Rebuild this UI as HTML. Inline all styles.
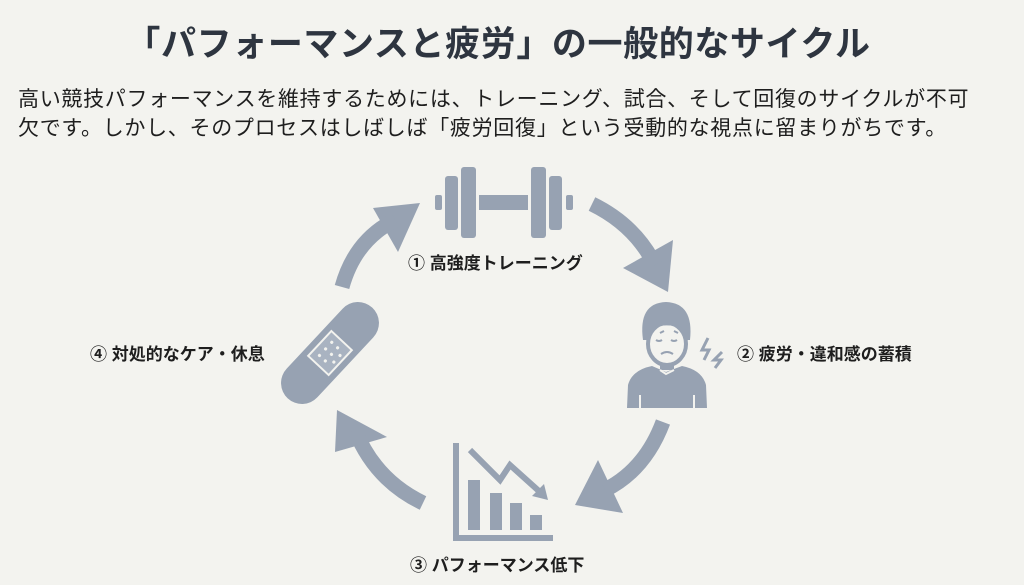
<!DOCTYPE html>
<html><head><meta charset="utf-8"><style>
html,body{margin:0;padding:0;}
body{width:1024px;height:585px;background:#f3f3ef;position:relative;overflow:hidden;font-family:"Liberation Sans","Noto Sans CJK JP",sans-serif;}
.t{position:absolute;white-space:nowrap;}
#title{left:-14px;width:1024px;text-align:center;top:24px;font-size:35px;font-weight:bold;color:#2e3540;line-height:42px;letter-spacing:0.6px;}
.p{left:18px;font-size:21px;color:#1e1e1e;line-height:28px;letter-spacing:0.7px;}
.lb{font-size:17px;font-weight:bold;color:#1e1e1e;line-height:20px;}
</style></head><body>
<div class="t" id="title">「パフォーマンスと疲労」の一般的なサイクル</div>
<div class="t p" style="top:86px">高い競技パフォーマンスを維持するためには、トレーニング、試合、そして回復のサイクルが不可</div>
<div class="t p" style="top:115px">欠です。しかし、そのプロセスはしばしば「疲労回復」という受動的な視点に留まりがちです。</div>

<svg width="1024" height="585" style="position:absolute;left:0;top:0" xmlns="http://www.w3.org/2000/svg">
<g fill="#97a2b2" stroke="none">
 <rect x="435" y="195" width="7" height="15" rx="2"/>
 <rect x="445" y="176" width="13" height="54" rx="3"/>
 <rect x="461" y="167" width="15" height="71" rx="3"/>
 <rect x="479" y="195" width="49" height="15"/>
 <rect x="531" y="167" width="15" height="71" rx="3"/>
 <rect x="549" y="176" width="13" height="54" rx="3"/>
 <rect x="566" y="195" width="7" height="15" rx="2"/>
 <path d="M643 340 Q638 303 666 302 Q694 303 690 340 Z"/>
 <path d="M627 408 L628 385 Q632 370 652 366 L666 372 L682 366 Q702 370 706 385 L707 408 Z"/>
 <rect x="453" y="443" width="6" height="98"/>
 <rect x="453" y="535" width="100" height="6"/>
 <rect x="468" y="480" width="12" height="50"/>
 <rect x="490" y="493" width="12" height="37"/>
 <rect x="510" y="503" width="12" height="27"/>
 <rect x="530" y="515" width="12" height="15"/>
 <polygon points="548,500 532,496 544,484"/>
 <polygon points="668,292 623,268 673,240"/>
 <polygon points="575,505 598,460 623,513"/>
 <polygon points="337,410 387,437 335,452"/>
 <polygon points="420,203 373,208 398,252"/>
</g>
<ellipse cx="667" cy="344" rx="19" ry="21" fill="#f3f3ef" stroke="#97a2b2" stroke-width="4"/>
<path d="M648 330 Q660 322 686 328 L688 318 L646 318 Z" fill="#97a2b2"/>
<g stroke="#97a2b2" stroke-width="2" fill="none">
 <path d="M656 340 q3 2 6 0 M671 340 q3 2 6 0"/>
 <path d="M661 354 q6 -4 12 0"/>
 <path d="M660 333 l4 -2 M674 331 l4 2"/>
</g>
<rect x="660" y="364" width="14" height="6" fill="#97a2b2"/>
<path d="M660 370 L666 374 L674 370" stroke="#f3f3ef" stroke-width="2" fill="none"/>
<path d="M640 395 v13 M694 395 v13" stroke="#f3f3ef" stroke-width="2"/>
<path d="M708 338 l-6 12 h7 l-5 10 M722 352 l-8 8 h7 l-6 8" stroke="#97a2b2" stroke-width="3" fill="none"/>
<g fill="none" stroke="#97a2b2" stroke-width="15">
 <path d="M592 204 Q635 225 655 265"/>
 <path d="M663 422 Q645 470 605 490"/>
 <path d="M423 503 Q375 480 355 430"/>
 <path d="M342 287 Q355 240 395 220"/>
 <path d="M470 450 L500 480 L510 465 L540 492" stroke-width="6"/>
</g>
<g transform="translate(330,353) rotate(-47)">
 <rect x="-62" y="-21" width="124" height="42" rx="21" fill="#97a2b2"/>
 <rect x="-17" y="-14" width="34" height="28" fill="#a9b3c1" stroke="#f3f3ef" stroke-width="2"/>
 <g fill="#f3f3ef">
  <circle cx="-9" cy="-6" r="1.6"/><circle cx="0" cy="-6" r="1.6"/><circle cx="9" cy="-6" r="1.6"/>
  <circle cx="-9" cy="2" r="1.6"/><circle cx="0" cy="2" r="1.6"/><circle cx="9" cy="2" r="1.6"/>
  <circle cx="-4" cy="9" r="1.6"/><circle cx="5" cy="9" r="1.6"/>
 </g>
</g>
</svg>

<div class="t lb" style="left:408px;top:254px;">① 高強度トレーニング</div>
<div class="t lb" style="left:737px;top:345px;">② 疲労・違和感の蓄積</div>
<div class="t lb" style="left:410px;top:556px;">③ パフォーマンス低下</div>
<div class="t lb" style="left:90px;top:345px;">④ 対処的なケア・休息</div>
</body></html>
